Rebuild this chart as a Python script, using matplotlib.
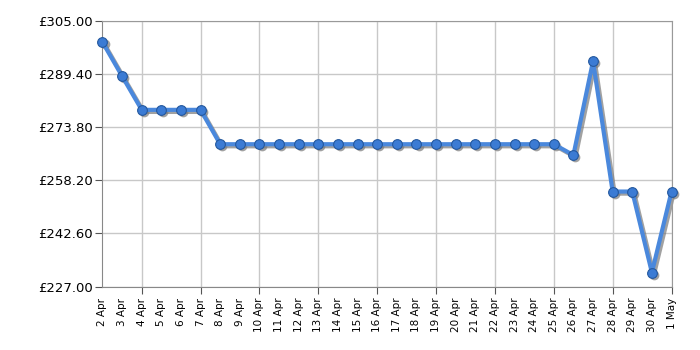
import matplotlib
matplotlib.use("Agg")
import matplotlib.pyplot as plt
import matplotlib.transforms as mtransforms
import numpy as np

days = ["2 Apr", "3 Apr", "4 Apr", "5 Apr", "6 Apr", "7 Apr", "8 Apr", "9 Apr",
        "10 Apr", "11 Apr", "12 Apr", "13 Apr", "14 Apr", "15 Apr", "16 Apr",
        "17 Apr", "18 Apr", "19 Apr", "20 Apr", "21 Apr", "22 Apr", "23 Apr",
        "24 Apr", "25 Apr", "26 Apr", "27 Apr", "28 Apr", "29 Apr", "30 Apr",
        "1 May"]
prices = [298.8, 288.8, 278.9, 278.9, 278.9, 278.9, 268.8, 268.8,
          268.8, 268.8, 268.8, 268.8, 268.8, 268.8, 268.8,
          268.8, 268.8, 268.8, 268.8, 268.8, 268.8, 268.8,
          268.8, 268.8, 265.6, 293.2, 254.9, 254.9, 231.1,
          254.9]
y_ticks = [227.0, 242.6, 258.2, 273.8, 289.4, 305.0]

x = np.arange(len(days))

fig = plt.figure(figsize=(7, 3.5), dpi=100)
ax = fig.add_axes([0.1464, 0.1814, 0.8129, 0.7586])

# drop shadow: same line shifted right/down in grey
shadow = mtransforms.offset_copy(ax.transData, fig=fig, x=1.5, y=-1.5, units="points")
ax.plot(x, prices, color="#7a7a7a", alpha=0.7, linewidth=3, marker="o", markersize=7,
        markeredgewidth=0, transform=shadow, zorder=2, clip_on=False)
ax.plot(x, prices, color="#4a88dc", linewidth=3, marker="o", markersize=7,
        markerfacecolor="#3b7bd4", markeredgecolor="#24589e", markeredgewidth=0.8,
        solid_joinstyle="round", zorder=3, clip_on=False)

ax.set_xlim(0, len(days) - 1)
ax.set_ylim(y_ticks[0], y_ticks[-1])

major = x[2::3]
minor = np.array([i for i in x if i not in major])
ax.set_xticks(major)
ax.set_xticklabels([days[i] for i in major], rotation=90, fontsize=7.5)
ax.set_xticks(minor, minor=True)
ax.set_xticklabels([days[i] for i in minor], minor=True, rotation=90, fontsize=7.5)
ax.tick_params(axis="x", which="major", length=5, color="#555555", pad=3)
ax.tick_params(axis="x", which="minor", length=0, pad=8)

ax.set_yticks(y_ticks)
ax.set_yticklabels(["£{:.2f}".format(v) for v in y_ticks], fontsize=9.5)
ax.tick_params(axis="y", length=5, color="#555555", pad=2)

ax.grid(True, which="major", color="#c8c8c8", linewidth=1)
ax.set_axisbelow(True)
for s in ax.spines.values():
    s.set_color("#999999")
ax.spines["left"].set_color("#888888")
ax.spines["bottom"].set_color("#888888")

fig.savefig("out.png", dpi=100)
